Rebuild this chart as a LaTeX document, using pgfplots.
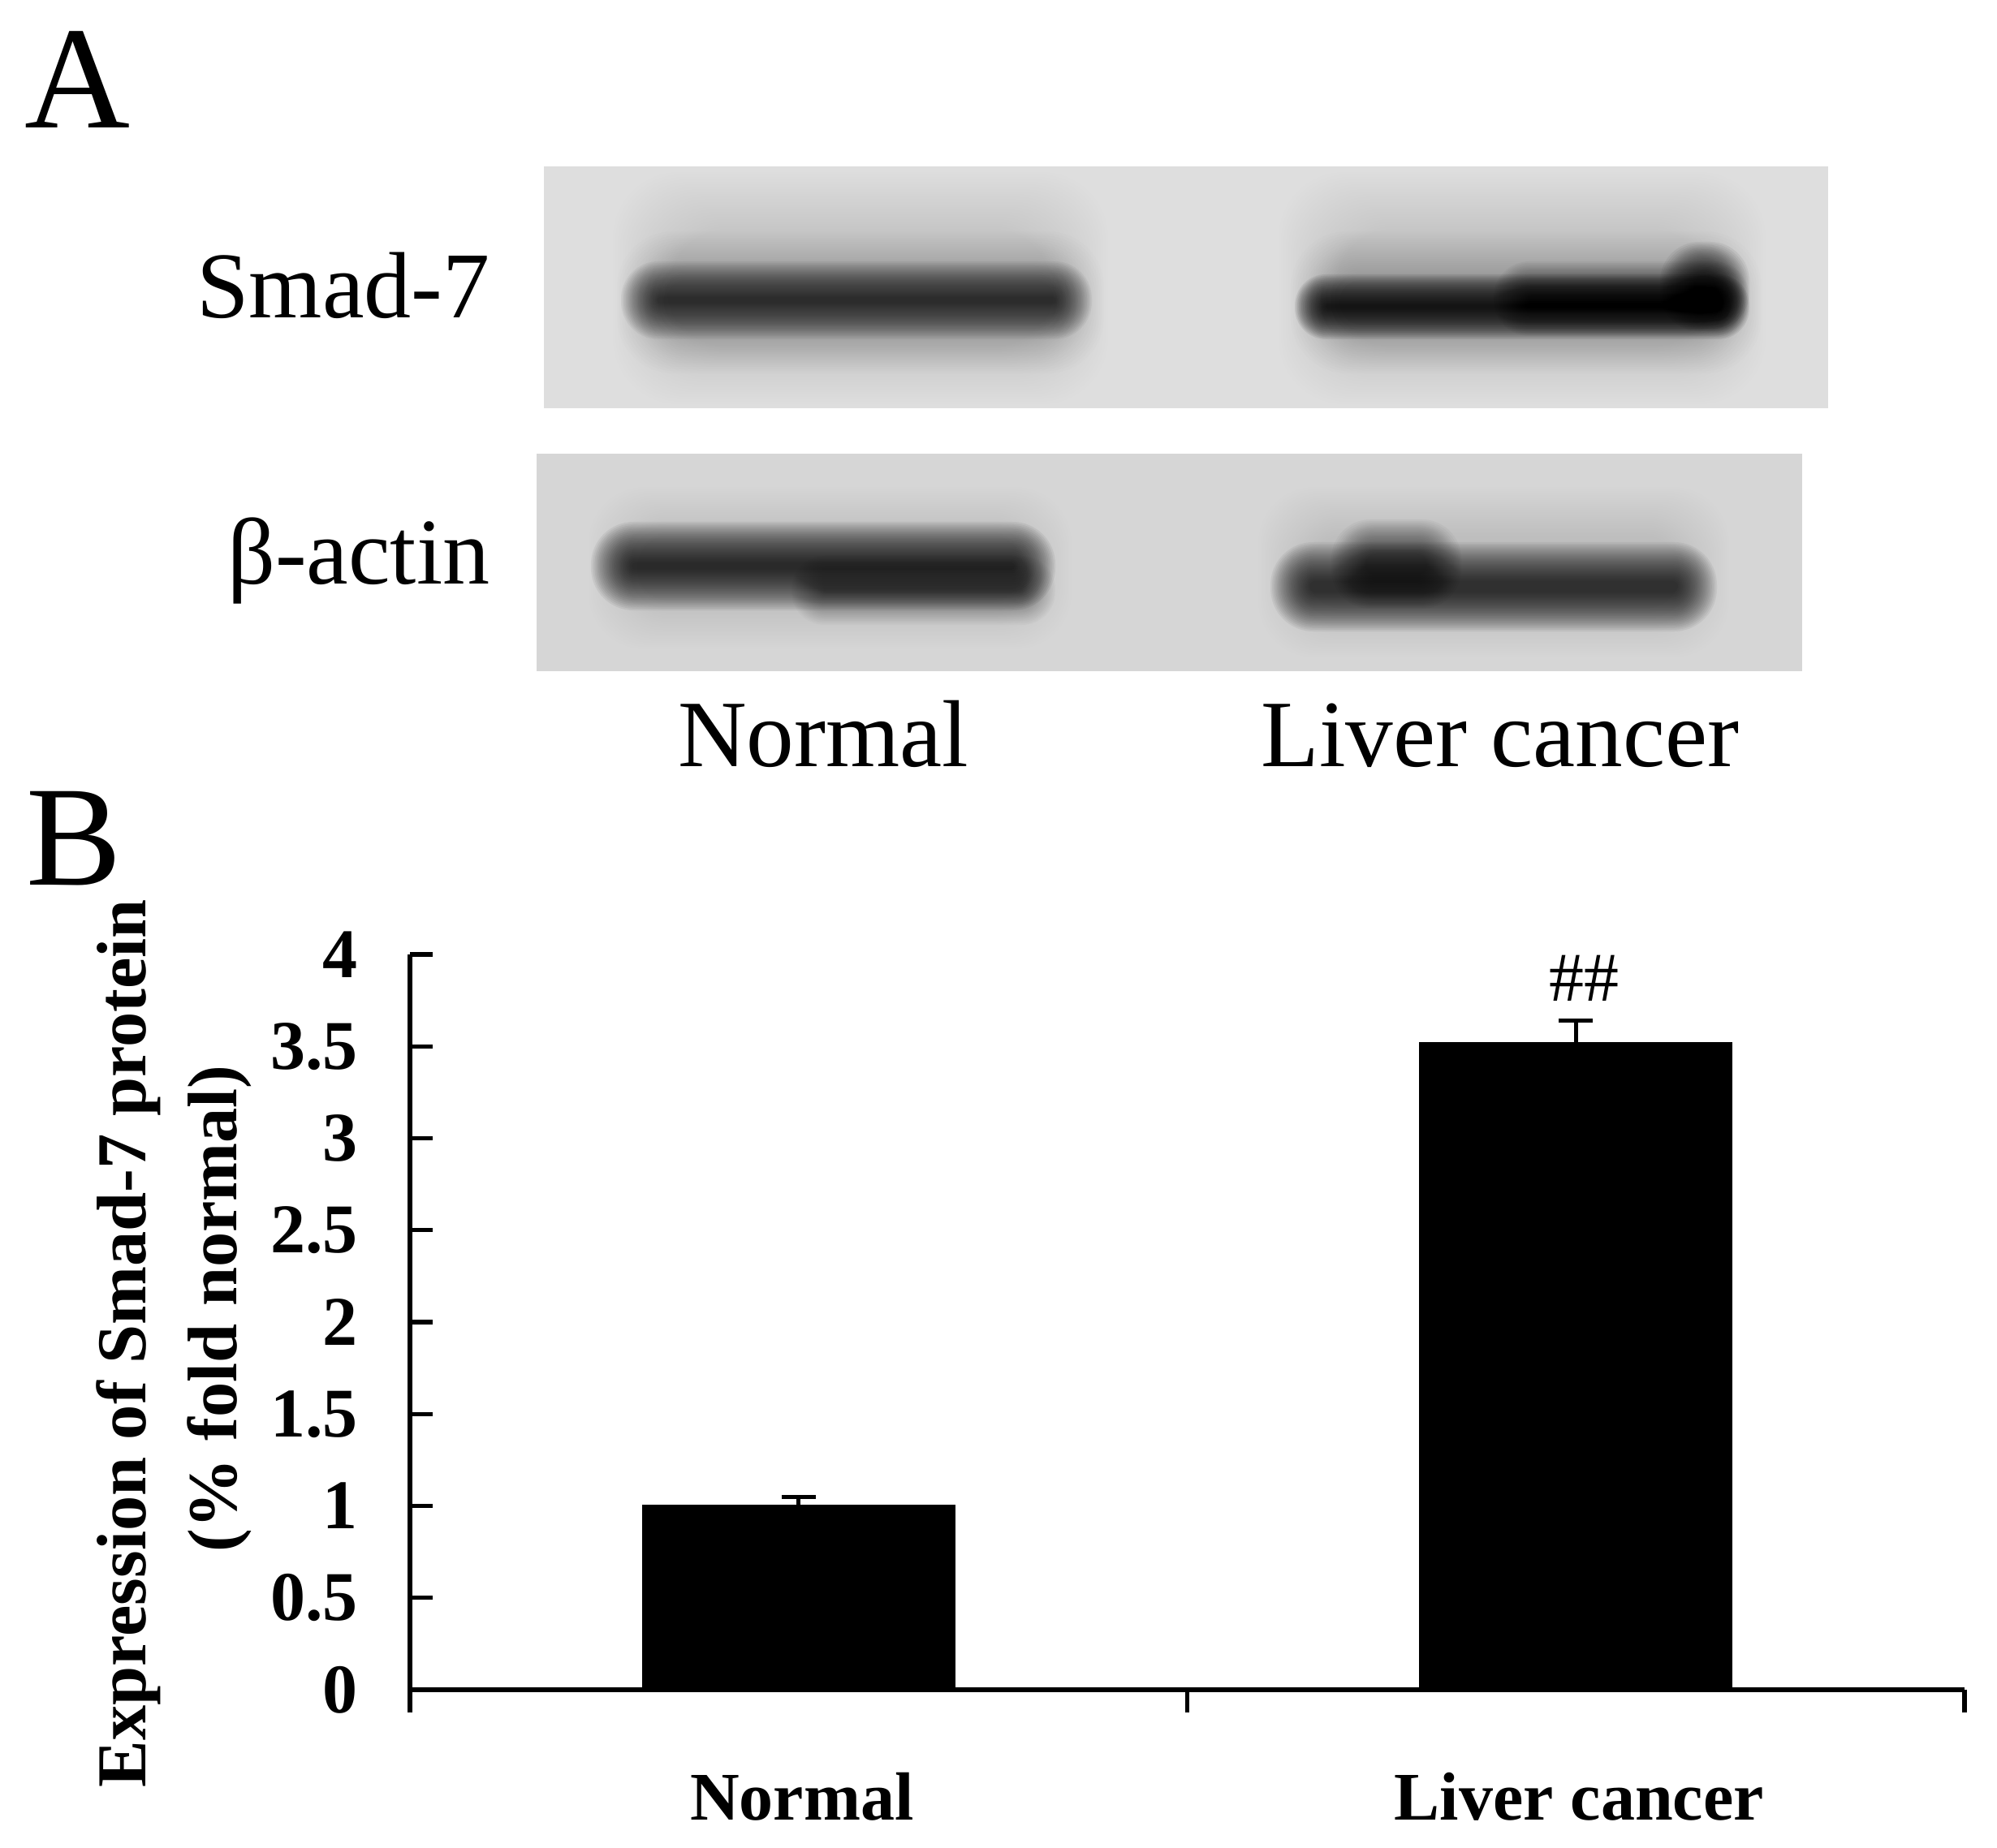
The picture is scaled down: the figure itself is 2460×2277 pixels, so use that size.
\documentclass[border=0pt]{standalone}
\usepackage{pgfplots}
\pgfplotsset{compat=1.18}
\usepackage{fontspec}
\setmainfont{Liberation Serif}
\newcommand{\band}[6]{%
  \foreach \k in {0,...,23}{%
    \pgfmathsetmacro\ins{#5*\k/23}%
    \pgfmathsetmacro\rad{0.24*max(1,min((#4-#2)/2-\ins,#5*1.2))}%
    \fill[black,opacity=#6,rounded corners=\rad pt]
      ({#1+\ins},{#2+\ins}) rectangle ({#3-\ins},{#4-\ins});
  }%
}
\begin{document}
\begin{tikzpicture}
\begin{scope}[x=0.25pt,y=-0.25pt]
  \path[use as bounding box] (0,0) rectangle (2460,2277);
  % blots
  \fill[fill=black!13] (670,205) rectangle (2252,503);
  \fill[fill=black!16] (661,559) rectangle (2220,827);
  % faint lanes and halos
  \band{755}{212}{1365}{498}{70}{0.003}
  \band{1575}{212}{2175}{498}{70}{0.003}
  \band{760}{285}{1360}{460}{60}{0.006}
  \band{1590}{285}{2170}{460}{60}{0.006}
  \band{725}{600}{1320}{800}{60}{0.004}
  \band{1550}{600}{2130}{810}{60}{0.004}
  % bands
  \band{765}{322}{1345}{418}{44}{0.045}
  \band{1595}{338}{2155}{418}{38}{0.072}
  \band{1840}{322}{2155}{414}{42}{0.03}
  \band{2045}{298}{2155}{408}{42}{0.05}
  \band{728}{643}{1300}{752}{50}{0.056}
  \band{975}{685}{1300}{770}{40}{0.02}
  \band{1565}{668}{2115}{778}{48}{0.052}
  \band{1640}{640}{1800}{750}{42}{0.03}
  % panel text
  \node[anchor=base west,inner sep=0pt,font=\fontsize{45}{50}\selectfont] at (30,158) {A};
  \node[anchor=base west,inner sep=0pt,font=\fontsize{44}{50}\selectfont] at (32,1090) {B};
  \node[anchor=base east,inner sep=0pt,font=\fontsize{29}{32}\selectfont] at (604,392) {Smad-7};
  \node[anchor=base east,inner sep=0pt,font=\fontsize{29}{32}\selectfont] at (604,719) {β-actin};
  \node[anchor=base,inner sep=0pt,font=\fontsize{29.3}{32}\selectfont] at (1014,944) {Normal};
  \node[anchor=base,inner sep=0pt,font=\fontsize{29.3}{32}\selectfont] at (1848,944) {Liver cancer};
\end{scope}
\begin{axis}[
  at={(126.25pt,-520.5pt)},anchor=south west,
  scale only axis,width=478.75pt,height=226.5pt,
  xmin=0,xmax=2,ymin=0,ymax=4,
  axis x line=bottom,axis y line=left,
  axis line style={-,line width=1.3pt,black},
  tick style={black,line width=1.3pt},
  tick align=inside,major tick length=7pt,
  clip=false,
  ybar,bar width=96pt,
  xtick={0,1,2},xticklabels={,,},
  extra x ticks={0.5,1.5},
  extra x tick labels={Normal,{Liver cancer}},
  extra x tick style={major tick length=0pt,tick label style={yshift=-22pt,xshift=1pt,font=\fontsize{21}{25}\selectfont\bfseries}},
  ytick={0,0.5,1,1.5,2,2.5,3,3.5,4},
  /pgf/number format/assume math mode=true,
  tick label style={font=\fontsize{21.5}{25}\selectfont\bfseries},
  yticklabel style={xshift=-12.5pt},
  ylabel={Expression of Smad-7 protein\\\hspace*{21.5pt}(\% fold normal)},
  ylabel style={align=center,anchor=center,font=\fontsize{21.6}{28}\selectfont\bfseries},
  every axis y label/.append style={at={(rel axis cs:-0.152,0.471)}},
]
\addplot[fill=black,draw=black,line width=0.6pt,
  error bars/.cd,y dir=plus,y explicit,
  error bar style={line width=1.2pt,black},
  error mark options={rotate=90,mark size=5.25pt,line width=1.2pt,black}]
  coordinates {(0.5,1.0) +- (0,0.05) (1.5,3.52) +- (0,0.12)};
\node[font=\fontsize{21.5}{25}\selectfont,inner sep=0pt] at (axis cs:1.511,3.87) {\#\#};
\end{axis}
\end{tikzpicture}
\end{document}
